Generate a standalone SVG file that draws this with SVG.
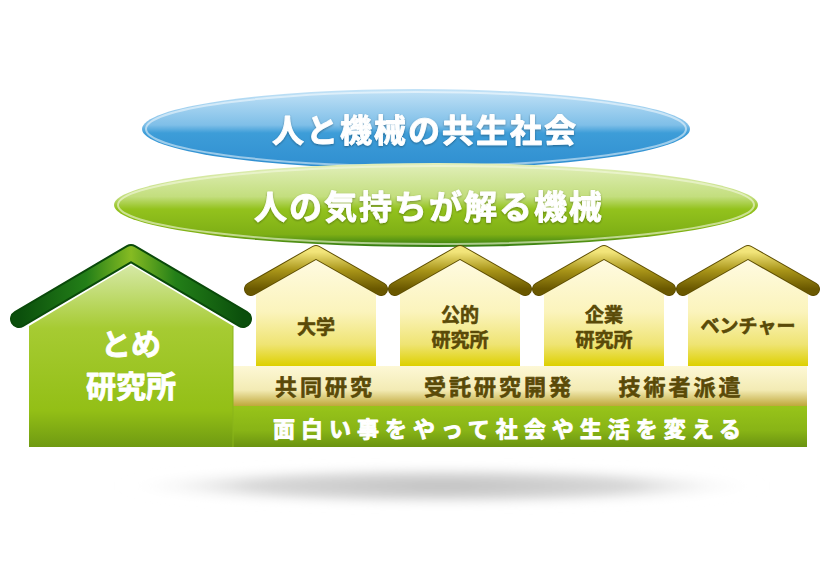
<svg xmlns="http://www.w3.org/2000/svg" width="830" height="565" viewBox="0 0 830 565">
<defs>
<style>
.jp{font-family:"Noto Sans CJK JP","Noto Sans",sans-serif;font-weight:700;text-anchor:middle;stroke-linejoin:round}
.wt{fill:#ffffff;stroke:#ffffff;stroke-width:0.9}
.ol{fill:#5a4a08;stroke:#5a4a08;stroke-width:0.6}
.sroof{fill:none;stroke:url(#gRoofS);stroke-width:12;stroke-linecap:round;stroke-linejoin:round}
.sroofo{fill:none;stroke:#5e4e00;stroke-width:14;stroke-linecap:round;stroke-linejoin:round}
.sbody{fill:url(#gBodyS)}
</style>
<linearGradient id="gBlue" x1="0" y1="0" x2="0" y2="1">
<stop offset="0" stop-color="#c4e3f7"/>
<stop offset="0.45" stop-color="#7fbfe8"/>
<stop offset="0.55" stop-color="#3d9dd8"/>
<stop offset="1" stop-color="#2f8ed0"/>
</linearGradient>
<linearGradient id="gGreen" x1="0" y1="0" x2="0" y2="1">
<stop offset="0" stop-color="#e2efbb"/>
<stop offset="0.4" stop-color="#c3de7e"/>
<stop offset="0.55" stop-color="#93c21d"/>
<stop offset="0.85" stop-color="#7eaf15"/>
<stop offset="1" stop-color="#2f7a12"/>
</linearGradient>
<linearGradient id="gRoofB" x1="0" y1="0" x2="1" y2="0">
<stop offset="0" stop-color="#0b4f0c"/>
<stop offset="0.3" stop-color="#237f18"/>
<stop offset="0.5" stop-color="#86bb22"/>
<stop offset="0.7" stop-color="#237f18"/>
<stop offset="1" stop-color="#0b4f0c"/>
</linearGradient>
<linearGradient id="gRoofS" x1="0" y1="0" x2="0" y2="1">
<stop offset="0" stop-color="#f2e57a"/>
<stop offset="0.5" stop-color="#a89418"/>
<stop offset="1" stop-color="#6a5800"/>
</linearGradient>
<linearGradient id="gBodyB" x1="0" y1="265" x2="0" y2="447" gradientUnits="userSpaceOnUse">
<stop offset="0" stop-color="#d6e9a6"/>
<stop offset="0.35" stop-color="#a6cb32"/>
<stop offset="0.8" stop-color="#93bf16"/>
<stop offset="1" stop-color="#6f9a12"/>
</linearGradient>
<linearGradient id="gBodyS" x1="0" y1="0" x2="0" y2="1">
<stop offset="0" stop-color="#fffbe2"/>
<stop offset="0.5" stop-color="#fbf4bc"/>
<stop offset="0.8" stop-color="#efe473"/>
<stop offset="1" stop-color="#ddd000"/>
</linearGradient>
<linearGradient id="gBand1" x1="0" y1="0" x2="0" y2="1">
<stop offset="0" stop-color="#fdf8d6"/>
<stop offset="0.6" stop-color="#f3ebb4"/>
<stop offset="1" stop-color="#bfa83a"/>
</linearGradient>
<linearGradient id="gBand2" x1="0" y1="0" x2="0" y2="1">
<stop offset="0" stop-color="#98c41a"/>
<stop offset="0.6" stop-color="#88b416"/>
<stop offset="1" stop-color="#6a9310"/>
</linearGradient>
<radialGradient id="gShadow" cx="0.5" cy="0.5" r="0.5">
<stop offset="0" stop-color="#c0c0c0"/>
<stop offset="0.6" stop-color="#d8d8d8"/>
<stop offset="1" stop-color="#ffffff" stop-opacity="0"/>
</radialGradient>
<filter id="blur" x="-10%" y="-50%" width="120%" height="200%"><feGaussianBlur stdDeviation="5"/></filter>
<filter id="tsh" x="-10%" y="-20%" width="120%" height="140%"><feDropShadow dx="0" dy="1" stdDeviation="0.8" flood-color="#000" flood-opacity="0.35"/></filter>
</defs>

<rect width="830" height="565" fill="#ffffff"/>

<g id="shadow">
<ellipse cx="442" cy="486" rx="325" ry="20" fill="url(#gShadow)" filter="url(#blur)"/>
</g>

<g id="goal-society">
<ellipse cx="416" cy="129" rx="274" ry="40" fill="url(#gBlue)"/>
<ellipse cx="416" cy="129" rx="270" ry="37" fill="none" stroke="#ffffff" stroke-opacity="0.5" stroke-width="2"/>
<text class="jp wt" x="425" y="142" font-size="32" letter-spacing="2" filter="url(#tsh)">人と機械の共生社会</text>
</g>

<g id="goal-machine">
<ellipse cx="436" cy="205" rx="322" ry="42" fill="url(#gGreen)"/>
<ellipse cx="436" cy="205" rx="318" ry="39" fill="none" stroke="#f4f9e0" stroke-opacity="0.6" stroke-width="2"/>
<text class="jp wt" x="429" y="219" font-size="33" letter-spacing="2" filter="url(#tsh)">人の気持ちが解る機械</text>
</g>

<g id="bands">
<rect x="233" y="366" width="574" height="40" fill="url(#gBand1)"/>
<rect x="233" y="406" width="574" height="41" fill="url(#gBand2)"/>
<text class="jp ol" x="325" y="395" font-size="22" letter-spacing="3">共同研究</text>
<text class="jp ol" x="499" y="395" font-size="22" letter-spacing="3">受託研究開発</text>
<text class="jp ol" x="681" y="395" font-size="22" letter-spacing="3">技術者派遣</text>
<text class="jp wt" x="510" y="437" font-size="22" letter-spacing="6">面白い事をやって社会や生活を変える</text>
</g>

<g id="tome-lab">
<polygon points="29,326 131,265 233,326 233,447 29,447" fill="url(#gBodyB)"/>
<line x1="233" y1="326" x2="233" y2="447" stroke="#8ab51a" stroke-width="1"/>
<polyline points="19,319 131,253 243,319" fill="none" stroke="#0a4a0a" stroke-width="18" stroke-linecap="round" stroke-linejoin="round"/>
<polyline points="19,319 131,253 243,319" fill="none" stroke="url(#gRoofB)" stroke-width="14" stroke-linecap="round" stroke-linejoin="round"/>
<text class="jp wt" x="131" y="355" font-size="30">とめ</text>
<text class="jp wt" x="131" y="397" font-size="30">研究所</text>
</g>

<g id="university">
<polygon class="sbody" points="256,292 316,258 376,292 376,366 256,366"/>
<polyline class="sroofo" points="251,289 316,252 381,289"/>
<polyline class="sroof" points="251,289 316,252 381,289"/>
<text class="jp ol" x="316" y="334" font-size="19">大学</text>
</g>

<g id="public-lab">
<polygon class="sbody" points="400,292 460,258 520,292 520,366 400,366"/>
<polyline class="sroofo" points="395,289 460,252 525,289"/>
<polyline class="sroof" points="395,289 460,252 525,289"/>
<text class="jp ol" x="460" y="322" font-size="19">公的</text>
<text class="jp ol" x="460" y="347" font-size="19">研究所</text>
</g>

<g id="corporate-lab">
<polygon class="sbody" points="544,292 604,258 664,292 664,366 544,366"/>
<polyline class="sroofo" points="539,289 604,252 669,289"/>
<polyline class="sroof" points="539,289 604,252 669,289"/>
<text class="jp ol" x="604" y="322" font-size="19">企業</text>
<text class="jp ol" x="604" y="347" font-size="19">研究所</text>
</g>

<g id="venture">
<polygon class="sbody" points="688,292 748,258 808,292 808,366 688,366"/>
<polyline class="sroofo" points="683,289 748,252 813,289"/>
<polyline class="sroof" points="683,289 748,252 813,289"/>
<text class="jp ol" x="748" y="333" font-size="19">ベンチャー</text>
</g>

<g id="connectors"></g>
</svg>
